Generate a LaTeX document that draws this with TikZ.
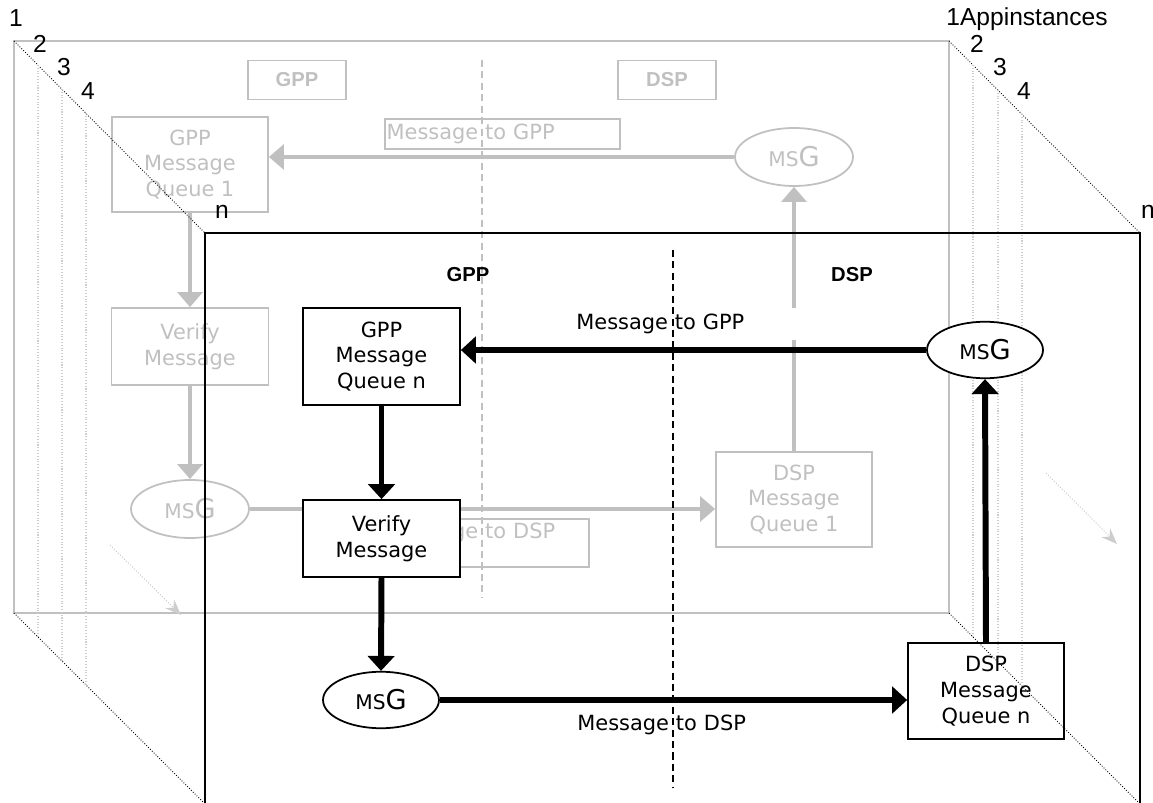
\documentclass[tikz,border=0pt]{standalone}
\usepackage{fontspec}
\setmainfont{DejaVu Sans}
\newfontfamily\arialfont{Liberation Sans}
\usetikzlibrary{arrows.meta,shapes.geometric}
\definecolor{backgrey}{RGB}{192,192,192}
\definecolor{layergrey}{RGB}{205,205,205}
\newcommand\boxfont{\fontsize{11.9}{14.6}\selectfont}
\newcommand\msgtext{{\fontsize{11.5}{12}\selectfont MS}{\fontsize{15.5}{15}\selectfont G}}
\tikzset{
  frontbox/.style={draw=black, line width=1pt, fill=white, align=center, font=\boxfont, minimum width=3.14cm},
  backbox/.style={draw=backgrey, line width=1pt, text=backgrey, align=center, font=\boxfont, minimum width=3.12cm},
  frontmsg/.style={ellipse, draw=black, line width=1pt, fill=white, minimum width=2.32cm, minimum height=1.13cm},
  backmsg/.style={ellipse, draw=backgrey, line width=1pt, text=backgrey, minimum width=2.36cm, minimum height=1.16cm},
  frontarrow/.style={draw=black, line width=3.4pt, -{Triangle[width=15pt,length=8.5pt]}},
  backarrow/.style={draw=backgrey, line width=2.8pt, -{Triangle[width=14pt,length=8.5pt]}},
  sidetitle/.style={font=\arialfont\bfseries\fontsize{11.5}{12}\selectfont},
  layerno/.style={font=\arialfont\fontsize{14}{15}\selectfont},
  msglabel/.style={font=\boxfont, align=left, text width=4.4cm, minimum height=0.64cm, anchor=west}
}
\begin{document}
\begin{tikzpicture}[x=0.02cm, y=-0.02cm]
    \tikzstyle{every node}+=[inner sep=0pt]
    \useasboundingbox (0,0) rectangle (1153,803);
    % back instance
    \draw [backgrey, line width=1.2pt] (14,41) rectangle (949,613);
    \draw [backgrey, line width=0.9pt, dash pattern=on 4pt off 2.5pt] (482,60) -- (482,597);
    \node [backbox, sidetitle, minimum width=1.96cm, minimum height=0.78cm] (bgpp) at (297,80) {GPP};
    \node [backbox, sidetitle, minimum width=1.96cm, minimum height=0.78cm] (bdsp) at (667,80) {DSP};
    \node [backbox, minimum height=1.9cm] (bgqueue) at (190,164.5) {GPP\\Message\\Queue 1};
    \node [backbox, minimum width=3.14cm, minimum height=1.54cm] (bverify) at (190,346.5) {Verify\\Message};
    \node [backmsg] (bmsgl) at (190,509) {\msgtext};
    \node [backmsg] (bmsgr) at (794,157) {\msgtext};
    \node [backbox, minimum height=1.9cm] (bdqueue) at (794,499.5) {DSP\\Message\\Queue 1};
    \node [draw=backgrey, line width=1pt, text=backgrey, font=\boxfont, anchor=north west, align=left, text width=4.7cm, minimum height=0.6cm, inner sep=0pt] (bmgpp) at (384,118) {\hspace{1pt}Message to GPP};
    \node [draw=backgrey, line width=1pt, text=backgrey, font=\boxfont, anchor=north west, align=left, text width=4.08cm, minimum height=0.96cm, inner sep=0pt, text depth=0.5cm] (bmdsp) at (384,518) {\hspace{1pt}Message to DSP};
    \draw [backarrow] (bmsgr.west) -- (bmsgr.west -| bgqueue.east);
    \draw [backarrow] (bgqueue.south) -- (bverify.north);
    \draw [backarrow] (bverify.south) -- (bmsgl.north);
    \draw [backarrow] (bmsgl.east) -- (bmsgl.east -| bdqueue.west);
    \draw [backarrow] (bdqueue.north) -- (bmsgr.south);
    % layers
    \coordinate (tl) at (14,41);
    \coordinate (tr) at (949,41);
    \coordinate (bl) at (14,613);
    \coordinate (br) at (949,613);
    \draw [black, line width=0.5pt, densely dotted] (tl) -- (205,233);
    \draw [black, line width=0.5pt, densely dotted] (tr) -- (1140,233);
    \draw [black, line width=0.5pt, densely dotted] (bl) -- (204,803);
    \draw [black, line width=0.5pt, densely dotted] (br) -- (1139,803);
    \draw [layergrey, line width=0.6pt, densely dotted] (38,65) -- (38,637);
    \draw [layergrey, line width=0.6pt, densely dotted] (62,89) -- (62,661);
    \draw [layergrey, line width=0.6pt, densely dotted] (86,113) -- (86,685);
    \draw [layergrey, line width=0.6pt, densely dotted] (973,65) -- (973,637);
    \draw [layergrey, line width=0.6pt, densely dotted] (998,90) -- (998,662);
    \draw [layergrey, line width=0.6pt, densely dotted] (1022,114) -- (1022,686);
    \coordinate (lstart) at (110,545);
    \coordinate (lend) at (181,615);
    \coordinate (rstart) at (1046,473);
    \coordinate (rend) at (1117,544);
    \draw [layergrey, line width=0.6pt, densely dotted, -{Stealth[length=9pt,width=7pt,inset=3pt]}] (lstart) -- (lend);
    \draw [layergrey, line width=0.6pt, densely dotted, -{Stealth[length=9pt,width=7pt,inset=3pt]}] (rstart) -- (rend);
    \node [layerno] (l1) at (16,18) {1};
    \node [layerno] (l2) at (40,44) {2};
    \node [layerno] (l3) at (64,67) {3};
    \node [layerno] (l4) at (88,91) {4};
    \node [layerno] (ln) at (222,212) {n};
    \node [layerno, anchor=west] (r1) at (946,19) {1Appinstances};
    \node [layerno] (r2) at (977,44) {2};
    \node [layerno] (r3) at (1000,67) {3};
    \node [layerno] (r4) at (1024,91) {4};
    \node [layerno] (rn) at (1148,212) {n};
    % front instance
    \draw [black, line width=1.3pt] (205,803) -- (205,233) -- (1140,233) -- (1140,803);
    \node [sidetitle] (fgpp) at (468,275) {GPP};
    \node [sidetitle] (fdsp) at (852,275) {DSP};
    \node [frontbox, minimum height=1.94cm] (fgqueue) at (381.5,356.5) {GPP\\Message\\Queue n};
    \node [frontbox, minimum height=1.54cm] (fverify) at (381.5,538.5) {Verify\\Message};
    \node [frontmsg] (fmsgl) at (381,700) {\msgtext};
    \node [frontmsg] (fmsgr) at (985,350) {\msgtext};
    \node [frontbox, fill=none, minimum width=3.12cm, minimum height=1.92cm] (fdqueue) at (986,691) {DSP\\Message\\Queue n};
    \node [msglabel, fill=white] (fmgpp) at (576,324) {Message to GPP};
    \node [msglabel] (fmdsp) at (577,725) {Message to DSP};
    \draw [black, line width=0.9pt, dash pattern=on 4pt off 2.5pt] (673,250) -- (673,787);
    \draw [frontarrow] (fmsgr.west) -- (fmsgr.west -| fgqueue.east);
    \draw [frontarrow] (fgqueue.south) -- (fverify.north);
    \draw [frontarrow] (fverify.south) -- (fmsgl.north);
    \draw [frontarrow] (fmsgl.east) -- (fmsgl.east -| fdqueue.west);
    \draw [frontarrow] (fdqueue.north) -- (fmsgr.south);
\end{tikzpicture}
\end{document}
